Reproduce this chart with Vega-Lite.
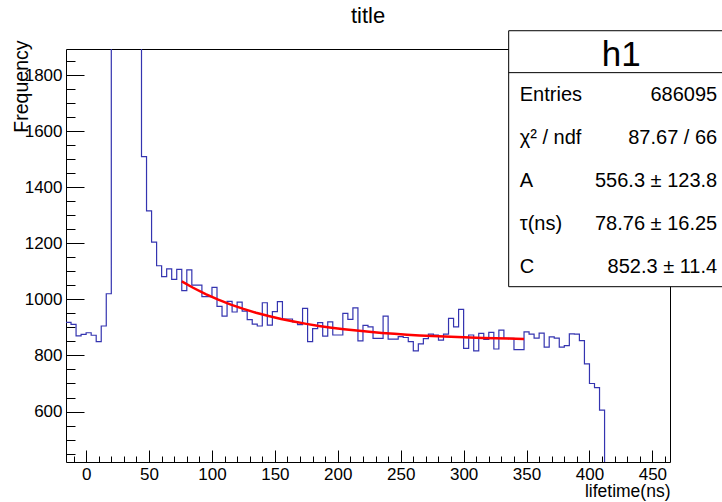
{
  "$schema": "https://vega.github.io/schema/vega-lite/v6.json",
  "width": 604,
  "height": 413,
  "autosize": "none",
  "padding": {"left": 66, "top": 49, "right": 52, "bottom": 40},
  "background": "white",
  "config": {
    "font": "Liberation Sans",
    "view": {"stroke": "black", "strokeWidth": 1},
    "axis": {"labelFontSize": 17, "labelColor": "black", "titleFontSize": 17.5, "titleFontWeight": "normal", "titleColor": "black", "tickColor": "black", "grid": false, "domain": false}
  },
  "title": {"text": "title", "fontSize": 22, "fontWeight": "normal", "font": "Liberation Sans", "anchor": "middle", "frame": "group", "offset": 2, "color": "black"},
  "datasets": {
    "hist": [
      {"lifetime": -16, "frequency": 918}, {"lifetime": -12, "frequency": 911}, {"lifetime": -8, "frequency": 870}, {"lifetime": -4, "frequency": 875},
      {"lifetime": 0, "frequency": 881}, {"lifetime": 4, "frequency": 872}, {"lifetime": 8, "frequency": 849}, {"lifetime": 12, "frequency": 905},
      {"lifetime": 16, "frequency": 1020}, {"lifetime": 20, "frequency": 9000}, {"lifetime": 24, "frequency": 120000}, {"lifetime": 28, "frequency": 250000},
      {"lifetime": 32, "frequency": 200000}, {"lifetime": 36, "frequency": 60000}, {"lifetime": 40, "frequency": 8000}, {"lifetime": 44, "frequency": 1509},
      {"lifetime": 48, "frequency": 1316}, {"lifetime": 52, "frequency": 1204}, {"lifetime": 56, "frequency": 1120}, {"lifetime": 60, "frequency": 1081},
      {"lifetime": 64, "frequency": 1109}, {"lifetime": 68, "frequency": 1071}, {"lifetime": 72, "frequency": 1107}, {"lifetime": 76, "frequency": 1031},
      {"lifetime": 80, "frequency": 1105}, {"lifetime": 84, "frequency": 1051}, {"lifetime": 88, "frequency": 1051}, {"lifetime": 92, "frequency": 1010},
      {"lifetime": 96, "frequency": 1010}, {"lifetime": 100, "frequency": 1043}, {"lifetime": 104, "frequency": 975}, {"lifetime": 108, "frequency": 940},
      {"lifetime": 112, "frequency": 993}, {"lifetime": 116, "frequency": 955}, {"lifetime": 120, "frequency": 990}, {"lifetime": 124, "frequency": 958},
      {"lifetime": 128, "frequency": 928}, {"lifetime": 132, "frequency": 912}, {"lifetime": 136, "frequency": 905}, {"lifetime": 140, "frequency": 988},
      {"lifetime": 144, "frequency": 908}, {"lifetime": 148, "frequency": 956}, {"lifetime": 152, "frequency": 992}, {"lifetime": 156, "frequency": 930},
      {"lifetime": 160, "frequency": 930}, {"lifetime": 164, "frequency": 920}, {"lifetime": 168, "frequency": 910}, {"lifetime": 172, "frequency": 968},
      {"lifetime": 176, "frequency": 849}, {"lifetime": 180, "frequency": 896}, {"lifetime": 184, "frequency": 917}, {"lifetime": 188, "frequency": 869},
      {"lifetime": 192, "frequency": 920}, {"lifetime": 196, "frequency": 873}, {"lifetime": 200, "frequency": 873}, {"lifetime": 204, "frequency": 950},
      {"lifetime": 208, "frequency": 929}, {"lifetime": 212, "frequency": 970}, {"lifetime": 216, "frequency": 852}, {"lifetime": 220, "frequency": 907},
      {"lifetime": 224, "frequency": 902}, {"lifetime": 228, "frequency": 861}, {"lifetime": 232, "frequency": 861}, {"lifetime": 236, "frequency": 940},
      {"lifetime": 240, "frequency": 858}, {"lifetime": 244, "frequency": 858}, {"lifetime": 248, "frequency": 867}, {"lifetime": 252, "frequency": 864},
      {"lifetime": 256, "frequency": 849}, {"lifetime": 260, "frequency": 816}, {"lifetime": 264, "frequency": 841}, {"lifetime": 268, "frequency": 860},
      {"lifetime": 272, "frequency": 876}, {"lifetime": 276, "frequency": 873}, {"lifetime": 280, "frequency": 855}, {"lifetime": 284, "frequency": 876},
      {"lifetime": 288, "frequency": 932}, {"lifetime": 292, "frequency": 902}, {"lifetime": 296, "frequency": 964}, {"lifetime": 300, "frequency": 825},
      {"lifetime": 304, "frequency": 873}, {"lifetime": 308, "frequency": 816}, {"lifetime": 312, "frequency": 879}, {"lifetime": 316, "frequency": 857},
      {"lifetime": 320, "frequency": 882}, {"lifetime": 324, "frequency": 823}, {"lifetime": 328, "frequency": 890}, {"lifetime": 332, "frequency": 861},
      {"lifetime": 336, "frequency": 861}, {"lifetime": 340, "frequency": 821}, {"lifetime": 344, "frequency": 821}, {"lifetime": 348, "frequency": 884},
      {"lifetime": 352, "frequency": 876}, {"lifetime": 356, "frequency": 862}, {"lifetime": 360, "frequency": 880}, {"lifetime": 364, "frequency": 830},
      {"lifetime": 368, "frequency": 866}, {"lifetime": 372, "frequency": 862}, {"lifetime": 376, "frequency": 830}, {"lifetime": 380, "frequency": 835},
      {"lifetime": 384, "frequency": 877}, {"lifetime": 388, "frequency": 876}, {"lifetime": 392, "frequency": 853}, {"lifetime": 396, "frequency": 770},
      {"lifetime": 400, "frequency": 700}, {"lifetime": 404, "frequency": 685}, {"lifetime": 408, "frequency": 605}, {"lifetime": 412, "frequency": 0},
      {"lifetime": 416, "frequency": 0}, {"lifetime": 420, "frequency": 0}, {"lifetime": 424, "frequency": 0}, {"lifetime": 428, "frequency": 0},
      {"lifetime": 432, "frequency": 0}, {"lifetime": 436, "frequency": 0}, {"lifetime": 440, "frequency": 0}, {"lifetime": 444, "frequency": 0},
      {"lifetime": 448, "frequency": 0}, {"lifetime": 452, "frequency": 0}, {"lifetime": 456, "frequency": 0}, {"lifetime": 460, "frequency": 0},
      {"lifetime": 464, "frequency": 0}
    ],
    "fit": [
      {"lifetime": 76, "frequency": 1064.3}, {"lifetime": 85, "frequency": 1041.4}, {"lifetime": 95, "frequency": 1018.8}, {"lifetime": 105, "frequency": 998.9},
      {"lifetime": 115, "frequency": 981.5}, {"lifetime": 125, "frequency": 966.1}, {"lifetime": 135, "frequency": 952.5}, {"lifetime": 145, "frequency": 940.6},
      {"lifetime": 155, "frequency": 930.0}, {"lifetime": 165, "frequency": 920.8}, {"lifetime": 175, "frequency": 912.6}, {"lifetime": 185, "frequency": 905.4},
      {"lifetime": 195, "frequency": 899.1}, {"lifetime": 205, "frequency": 893.5}, {"lifetime": 215, "frequency": 888.6}, {"lifetime": 225, "frequency": 884.2},
      {"lifetime": 235, "frequency": 880.4}, {"lifetime": 245, "frequency": 877.1}, {"lifetime": 255, "frequency": 874.1}, {"lifetime": 265, "frequency": 871.5},
      {"lifetime": 275, "frequency": 869.2}, {"lifetime": 285, "frequency": 867.2}, {"lifetime": 295, "frequency": 865.4}, {"lifetime": 305, "frequency": 863.9},
      {"lifetime": 315, "frequency": 862.5}, {"lifetime": 325, "frequency": 861.3}, {"lifetime": 335, "frequency": 860.2}, {"lifetime": 348, "frequency": 859.0}
    ],
    "stats": [
      {"stat": "Entries", "value": "686095", "row": 1},
      {"stat": "χ² / ndf", "value": "87.67 / 66", "row": 2},
      {"stat": "A", "value": "556.3 ± 123.8", "row": 3},
      {"stat": "τ(ns)", "value": "78.76 ± 16.25", "row": 4},
      {"stat": "C", "value": "852.3 ± 11.4", "row": 5}
    ],
    "header": [{"name": "h1", "row": 0}]
  },
  "layer": [
    {
      "layer": [
        {
          "data": {"name": "hist"},
          "mark": {"type": "line", "interpolate": "step-after", "clip": true, "stroke": "#3434b0", "strokeWidth": 1.2},
          "encoding": {
            "x": {"field": "lifetime", "type": "quantitative", "scale": {"domain": [-16, 464], "nice": false, "zero": false},
                  "axis": {"orient": "bottom", "values": [0, 50, 100, 150, 200, 250, 300, 350, 400, 450], "format": "d", "tickSize": -12, "labelPadding": 16, "title": "lifetime(ns)", "titleAnchor": "end", "titleAlign": "right", "titleX": 604, "titleY": 34, "titleBaseline": "alphabetic"}},
            "y": {"field": "frequency", "type": "quantitative", "scale": {"domain": [420, 1893], "nice": false, "zero": false},
                  "axis": {"orient": "left", "values": [600, 800, 1000, 1200, 1400, 1600, 1800], "format": "d", "tickSize": -18, "labelPadding": 22, "title": "Frequency", "titleFontSize": 19.5, "titleAngle": -90, "titleAlign": "right", "titleBaseline": "bottom", "titleX": -35, "titleY": -9}}
          }
        },
        {
          "data": {"name": "fit"},
          "mark": {"type": "line", "clip": true, "stroke": "#ff0000", "strokeWidth": 2.5},
          "encoding": {
            "x": {"field": "lifetime", "type": "quantitative",
                  "axis": {"orient": "bottom", "values": [-10, 0, 10, 20, 30, 40, 50, 60, 70, 80, 90, 100, 110, 120, 130, 140, 150, 160, 170, 180, 190, 200, 210, 220, 230, 240, 250, 260, 270, 280, 290, 300, 310, 320, 330, 340, 350, 360, 370, 380, 390, 400, 410, 420, 430, 440, 450, 460], "tickSize": -6, "labels": false, "title": null}},
            "y": {"field": "frequency", "type": "quantitative",
                  "axis": {"orient": "left", "values": [450, 500, 550, 600, 650, 700, 750, 800, 850, 900, 950, 1000, 1050, 1100, 1150, 1200, 1250, 1300, 1350, 1400, 1450, 1500, 1550, 1600, 1650, 1700, 1750, 1800, 1850], "tickSize": -9, "labels": false, "title": null}}
          }
        }
      ],
      "resolve": {"axis": {"x": "independent", "y": "independent"}}
    },
    {
      "layer": [
        {
          "data": {"name": "header"},
          "mark": {"type": "rect", "fill": "white", "stroke": "black", "strokeWidth": 1},
          "encoding": {
            "x": {"datum": 335.8, "type": "quantitative", "axis": null},
            "x2": {"datum": 510},
            "y": {"datum": -0.495, "type": "quantitative", "scale": {"domain": [-0.07, 9.535], "nice": false, "zero": false, "reverse": true}, "axis": null},
            "y2": {"datum": 5.458}
          }
        },
        {
          "data": {"name": "header"},
          "mark": {"type": "rule", "stroke": "black", "strokeWidth": 1},
          "encoding": {
            "x": {"datum": 335.8, "type": "quantitative", "axis": null},
            "x2": {"datum": 510},
            "y": {"datum": 0.48, "type": "quantitative", "axis": null}
          }
        },
        {
          "data": {"name": "header"},
          "mark": {"type": "text", "fontSize": 35, "align": "center", "baseline": "middle", "dy": 3, "color": "black"},
          "encoding": {
            "x": {"datum": 425.2, "type": "quantitative", "axis": null},
            "y": {"field": "row", "type": "quantitative", "axis": null},
            "text": {"field": "name"}
          }
        },
        {
          "data": {"name": "stats"},
          "mark": {"type": "text", "fontSize": 20, "align": "left", "baseline": "middle", "color": "black"},
          "encoding": {
            "x": {"datum": 344.6, "type": "quantitative", "axis": null},
            "y": {"field": "row", "type": "quantitative", "axis": null},
            "text": {"field": "stat"}
          }
        },
        {
          "data": {"name": "stats"},
          "mark": {"type": "text", "fontSize": 20, "align": "right", "baseline": "middle", "color": "black"},
          "encoding": {
            "x": {"datum": 501.5, "type": "quantitative", "axis": null},
            "y": {"field": "row", "type": "quantitative", "axis": null},
            "text": {"field": "value"}
          }
        }
      ]
    }
  ],
  "resolve": {"scale": {"y": "independent"}, "axis": {"y": "independent"}}
}
